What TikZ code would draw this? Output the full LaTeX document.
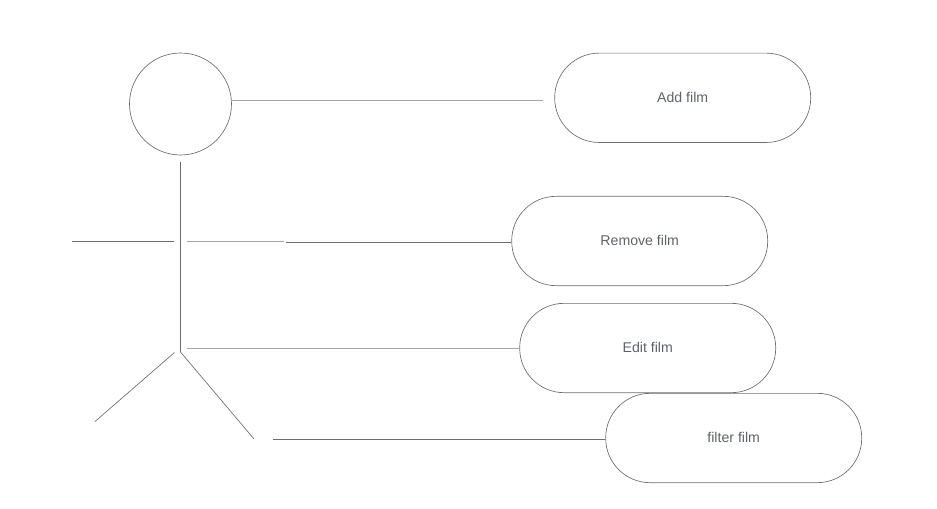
\documentclass[tikz,border=0pt]{standalone}
\usepackage{fontspec}
\setmainfont{Liberation Sans}
\definecolor{ln}{HTML}{6A6D73}
\definecolor{lnsoft}{HTML}{A4A6AA}
\definecolor{tx}{HTML}{5F6269}
\tikzset{
  px/.style={x=0.75pt,y=-0.75pt},
  stroke/.style={draw=ln,line width=0.5pt},
  softstroke/.style={draw=lnsoft,line width=0.6pt},
  usecase/.style={stroke,rounded corners=33.3pt,minimum width=192pt,minimum height=67pt,inner sep=0pt,text=tx,font=\fontsize{10.6pt}{12pt}\selectfont},
  actorhead/.style={stroke,circle,minimum size=76.5pt,inner sep=0pt}
}
\newcommand{\uplabel}[1]{\raisebox{0.8pt}{#1}}
\begin{document}
\begin{tikzpicture}[px]
\useasboundingbox (0,0) rectangle (937,509);
\node[actorhead] (head) at (180.5,104) {};
\node[usecase] (add) at (682.7,97.8) {\uplabel{Add film}};
\node[usecase] (remove) at (639.7,241) {\uplabel{Remove film}};
\node[usecase] (edit) at (647.7,348) {\uplabel{Edit film}};
\node[usecase] (filter) at (733.7,438) {\uplabel{filter film}};
\coordinate (neck) at (180.5,162);
\coordinate (hip) at (180.5,352);
\coordinate (armL) at (72,241.5);
\coordinate (armLend) at (174,241.5);
\coordinate (armR) at (187,241);
\coordinate (armRend) at (284,241);
\coordinate (legL) at (174.5,352.5);
\coordinate (footL) at (95,421.5);
\coordinate (footR) at (254,439);
\coordinate (a1) at (543,100.5);
\coordinate (r0) at (286,242);
\coordinate (e0) at (187,348);
\coordinate (f0) at (273,439);
\path (head.east) ++(0,-3.5) coordinate (h0);
\draw[stroke] (neck) -- (hip);
\draw[stroke] (armL) -- (armLend);
\draw[softstroke] (armR) -- (armRend);
\draw[stroke] (legL) -- (footL);
\draw[stroke] (hip) -- (footR);
\draw[softstroke] (h0) -- (a1);
\draw[stroke] (r0) -- (r0 -| remove.west);
\draw[softstroke] (e0) -- (e0 -| edit.west);
\draw[stroke] (f0) -- (f0 -| filter.west);
\end{tikzpicture}
\end{document}
